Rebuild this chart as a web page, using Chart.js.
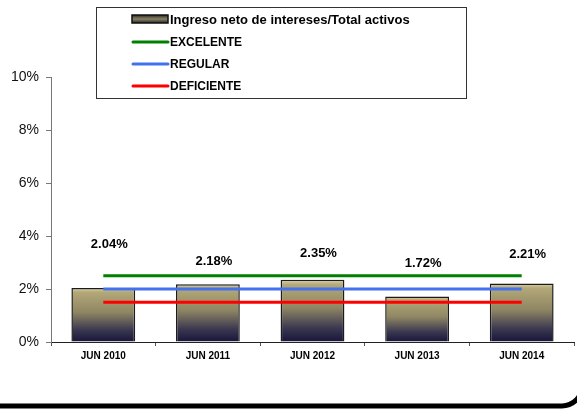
<!DOCTYPE html>
<html>
<head>
<meta charset="utf-8">
<script src="https://cdn.jsdelivr.net/npm/chart.js@4/dist/chart.umd.min.js"></script>
<style>
  html, body { margin: 0; padding: 0; background: #fff; }
  #wrap { width: 577px; height: 409px; position: relative; }
</style>
</head>
<body>
<div id="wrap"><canvas id="chart" width="577" height="409"></canvas></div>
<script>
const categories = ["JUN 2010", "JUN 2011", "JUN 2012", "JUN 2013", "JUN 2014"];
const ratio = [2.04, 2.18, 2.35, 1.72, 2.21];
const excelente = [2.5, 2.5, 2.5, 2.5, 2.5];
const regular = [2.0, 2.0, 2.0, 2.0, 2.0];
const deficiente = [1.5, 1.5, 1.5, 1.5, 1.5];
const yTicks = [0, 2, 4, 6, 8, 10];

// label lift above each bar top (px), as laid out in the original
const labelLift = [44, 23, 26, 33, 29];

const FONT = "Liberation Sans, Arial, sans-serif";

function barFill(ctx) {
  const chart = ctx.chart;
  if (!chart.chartArea || ctx.dataIndex === undefined) return "#8a8060";
  const y = chart.scales.y;
  const top = y.getPixelForValue(ratio[ctx.dataIndex]);
  const bottom = y.getPixelForValue(0);
  const g = chart.ctx.createLinearGradient(0, top, 0, bottom);
  g.addColorStop(0, "#ddd3a4");
  g.addColorStop(0.08, "#b3a878");
  g.addColorStop(0.45, "#8f8663");
  g.addColorStop(0.78, "#3a3750");
  g.addColorStop(1, "#17153a");
  return g;
}

const valueLabels = {
  id: "valueLabels",
  afterDatasetsDraw(chart) {
    const meta = chart.getDatasetMeta(0);
    const c = chart.ctx;
    c.save();
    c.font = "bold 13px " + FONT;
    c.fillStyle = "#000";
    c.textAlign = "center";
    c.textBaseline = "middle";
    meta.data.forEach((bar, i) => {
      c.fillText(ratio[i].toFixed(2) + "%", bar.x + 6, bar.y - labelLift[i]);
    });
    c.restore();
  }
};

const boxLegend = {
  id: "boxLegend",
  afterDraw(chart) {
    const c = chart.ctx;
    c.save();
    c.strokeStyle = "#333";
    c.lineWidth = 1;
    c.strokeRect(96.5, 7.5, 370, 91);
    const rows = [
      { text: "Ingreso neto de intereses/Total activos", y: 19, bar: true, font: "bold 13px " },
      { text: "EXCELENTE", y: 42, color: "#008000", font: "bold 12px " },
      { text: "REGULAR", y: 64, color: "#4472ee", font: "bold 12px " },
      { text: "DEFICIENTE", y: 86, color: "#ff0000", font: "bold 12px " }
    ];
    rows.forEach((r) => {
      if (r.bar) {
        const g = c.createLinearGradient(0, r.y - 4, 0, r.y + 4);
        g.addColorStop(0, "#2a2a2a");
        g.addColorStop(0.5, "#8a8262");
        g.addColorStop(1, "#2a2a2a");
        c.fillStyle = g;
        c.fillRect(132, r.y - 4, 36, 8);
        c.strokeStyle = "#111";
        c.lineWidth = 1.5;
        c.strokeRect(132, r.y - 4, 36, 8);
      } else {
        c.strokeStyle = r.color;
        c.lineWidth = 3;
        c.lineCap = "round";
        c.beginPath();
        c.moveTo(133, r.y);
        c.lineTo(168, r.y);
        c.stroke();
      }
      c.font = r.font + FONT;
      c.fillStyle = "#000";
      c.textBaseline = "middle";
      c.textAlign = "left";
      c.fillText(r.text, 170, r.y + 1);
    });
    c.restore();
  }
};

const frame = {
  id: "frame",
  afterDraw(chart) {
    const c = chart.ctx;
    c.save();
    c.strokeStyle = "#000";
    c.lineWidth = 5;
    c.beginPath();
    c.roundRect(-20, -20, 602, 426, 20);
    c.stroke();
    c.restore();
  }
};

const lineDs = (label, data, color) => ({
  type: "line",
  label,
  data,
  borderColor: color,
  backgroundColor: color,
  borderWidth: 3,
  pointRadius: 0,
  fill: false,
  order: 1
});

new Chart(document.getElementById("chart"), {
  type: "bar",
  data: {
    labels: categories,
    datasets: [
      {
        label: "Ingreso neto de intereses/Total activos",
        data: ratio,
        backgroundColor: barFill,
        borderColor: "#1c1c1c",
        borderWidth: 1.5,
        categoryPercentage: 1,
        barPercentage: 0.61,
        order: 10
      },
      lineDs("EXCELENTE", excelente, "#008000"),
      lineDs("REGULAR", regular, "#4472ee"),
      lineDs("DEFICIENTE", deficiente, "#ff0000")
    ]
  },
  options: {
    responsive: false,
    animation: false,
    layout: { padding: { top: 77, right: 3, left: 0, bottom: 0 } },
    plugins: { legend: { display: false }, tooltip: { enabled: false } },
    scales: {
      x: {
        grid: { display: true, drawOnChartArea: false, tickLength: 4, color: "#555" },
        border: { display: true, color: "#222", width: 1 },
        ticks: { color: "#000", font: { family: FONT, size: 10, weight: "bold" }, padding: 4, maxRotation: 0 },
        afterFit(scale) { scale.height = 67; }
      },
      y: {
        min: 0,
        max: 10,
        afterBuildTicks(scale) { scale.ticks = yTicks.map((v) => ({ value: v })); },
        grid: { display: true, drawOnChartArea: false, tickLength: 5, color: "#777" },
        border: { display: true, color: "#777", width: 1 },
        ticks: { color: "#111", font: { family: FONT, size: 14 }, padding: 7, callback: (v) => v + "%" },
        afterFit(scale) { scale.width = 51; }
      }
    }
  },
  plugins: [valueLabels, boxLegend, frame]
});
</script>
</body>
</html>
